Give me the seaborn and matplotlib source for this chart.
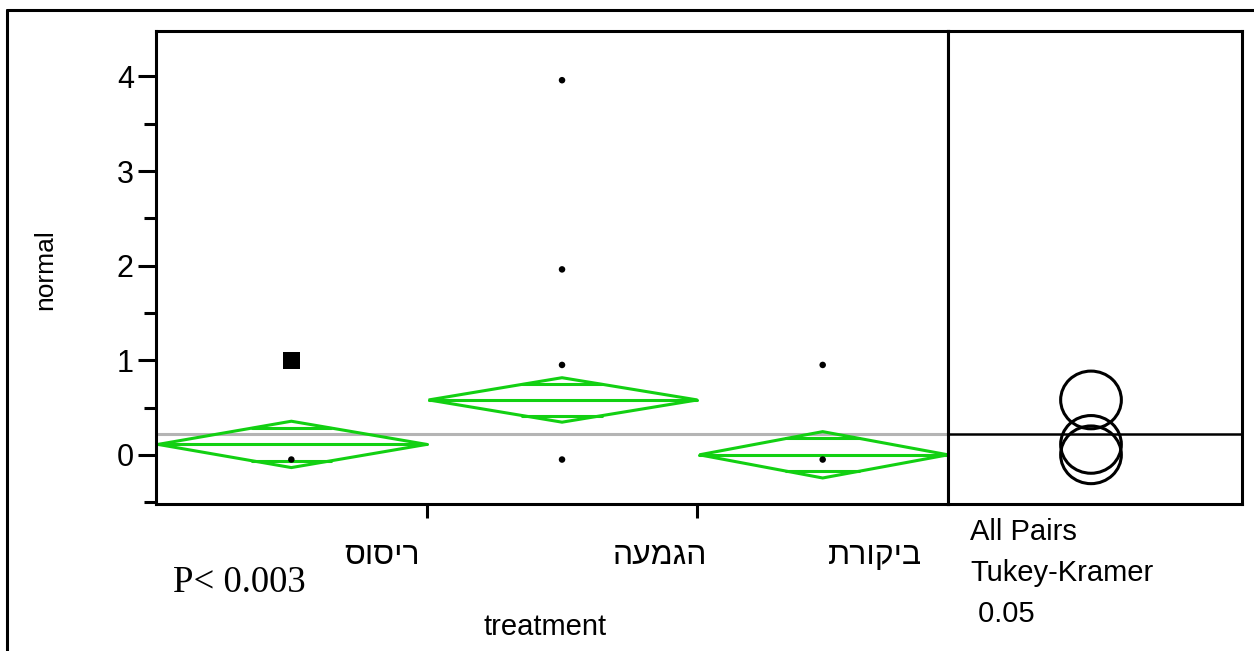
import numpy as np
import pandas as pd
import matplotlib
matplotlib.use("Agg")
import matplotlib.pyplot as plt
import seaborn as sns
from matplotlib.patches import Ellipse, Polygon
from matplotlib.lines import Line2D
from matplotlib.ticker import MultipleLocator

# ---------------- data ----------------
groups = ["ריסוס", "הגמעה", "ביקורת"]
group_n = [27, 27, 25]                  # relative group widths (JMP x-scaling by n)
group_means = [0.11, 0.58, 0.0]
group_ci_half = [0.245, 0.235, 0.245]   # 95% CI half-width (diamond half-height)
grand_mean = 0.22
circle_radius = [0.305, 0.305, 0.305]   # Tukey-Kramer comparison circle radii

pts_risus = [-0.05]
pts_risus_highlight = [1.0]
pts_hagmaa = [3.96, 1.96, 0.95, -0.05]
pts_bikoret = [0.95, -0.05]

y_ticks = [0, 1, 2, 3, 4]
y_label = "normal"
x_label = "treatment"
p_text = "P< 0.003"
compare_text = ["All Pairs", "Tukey-Kramer", " 0.05"]

# ---------------- layout ----------------
W, H = 1254, 651
sns.set_theme(style="white")
plt.rcParams['font.family'] = ['Liberation Sans', 'DejaVu Sans']
plt.rcParams['text.color'] = 'black'
plt.rcParams['axes.labelcolor'] = 'black'
plt.rcParams['xtick.color'] = 'black'
plt.rcParams['ytick.color'] = 'black'

fig = plt.figure(figsize=(W / 100, H / 100), dpi=100)
fig.patch.set_facecolor("white")

def px(x0, y0, x1, y1):
    return [x0 / W, 1 - y1 / H, (x1 - x0) / W, (y1 - y0) / H]

ax = fig.add_axes(px(156, 31, 948, 504))
ax2 = fig.add_axes(px(948, 31, 1242, 504))

bounds = np.concatenate([[0], np.cumsum(group_n)]).astype(float)
centers = (bounds[:-1] + bounds[1:]) / 2

# points dataframe
rows = []
for g, vals in zip(groups, [pts_risus, pts_hagmaa, pts_bikoret]):
    for v in vals:
        rows.append({"treatment": g, "normal": v})
df = pd.DataFrame(rows)
df["x"] = df["treatment"].map(dict(zip(groups, centers)))
df_hi = pd.DataFrame({"treatment": [groups[0]] * len(pts_risus_highlight),
                      "normal": pts_risus_highlight})
df_hi["x"] = df_hi["treatment"].map(dict(zip(groups, centers)))

ylim = (-0.52, 4.48)
ax.set_xlim(bounds[0], bounds[-1])
ax.set_ylim(*ylim)

green = "#12d012"
# grand mean line
ax.axhline(grand_mean, color="#b4b4b4", lw=2.2, zorder=1)

# means diamonds
for i in range(len(groups)):
    L, R, c = bounds[i], bounds[i + 1], centers[i]
    m, h = group_means[i], group_ci_half[i]
    poly = Polygon([(L + 0.2, m), (c, m + h), (R, m), (c, m - h)], closed=True,
                   fill=False, edgecolor=green, lw=2.2, zorder=2)
    ax.add_patch(poly)
    ax.plot([L + 0.2, R], [m, m], color=green, lw=2.2, zorder=2)
    half = (1 - 1 / np.sqrt(2)) * (R - L) / 2
    for s in (1, -1):
        ax.plot([c - half, c + half], [m + s * h / np.sqrt(2)] * 2,
                color=green, lw=2.2, zorder=2)

sns.scatterplot(data=df, x="x", y="normal", ax=ax, color="black", marker="o",
                s=22, edgecolor="none", zorder=3, legend=False)
sns.scatterplot(data=df_hi, x="x", y="normal", ax=ax, color="black", marker="s",
                s=150, edgecolor="none", zorder=3, legend=False)

# axes styling
for sp in ax.spines.values():
    sp.set_visible(True)
    sp.set_linewidth(2.2)
    sp.set_color("black")
ax.set_yticks(y_ticks)
ax.set_yticklabels([str(t) for t in y_ticks])
ax.yaxis.set_minor_locator(MultipleLocator(0.5))
ax.tick_params(axis="y", which="major", direction="out", length=13, width=2.2,
               labelsize=22, pad=3, left=True, color="black", labelcolor="black")
ax.tick_params(axis="y", which="minor", direction="out", length=8.5, width=2.2,
               left=True, color="black")
ax.set_xticks(bounds[1:-1])
ax.set_xticklabels([])
ax.tick_params(axis="x", which="major", direction="out", length=10, width=2.2,
               bottom=True, color="black")
ax.set_ylabel(y_label, fontsize=19, va="center", color="black")
ax.yaxis.set_label_coords((45 - 156) / 792, (504 - 270) / 473)
ax.set_xlabel(x_label, fontsize=21, va="center", color="black")
ax.xaxis.set_label_coords((545 - 156) / 792, (504 - 627) / 473)
ax.grid(False)

# category labels (Hebrew, reversed for visual RTL order)
label_px = [(382, 556), (660, 556), (875, 556)]
for g, (lx, ly) in zip(groups, label_px):
    fig.text(lx / W, 1 - ly / H, g[::-1], fontsize=23, ha="center", va="center",
             color="black", family=["Liberation Sans", "DejaVu Sans"])

fig.text(173 / W, 1 - 583 / H, p_text, fontsize=26.5, ha="left", va="center",
         color="black", family=["Liberation Serif", "DejaVu Serif"])

# comparison circles panel
ax2.set_xlim(0, 1)
ax2.set_ylim(*ylim)
ax2.set_xticks([])
ax2.set_yticks([])
for sp in ax2.spines.values():
    sp.set_visible(True)
    sp.set_linewidth(2.2)
    sp.set_color("black")
ax2.axhline(grand_mean, color="black", lw=1.8, zorder=1)
ppu_y = 473 / (ylim[1] - ylim[0])
for m, r in zip(group_means, circle_radius):
    rx = (r * ppu_y + 1.5) / 294
    ax2.add_patch(Ellipse(((1091 - 948) / 294, m), 2 * rx, 2 * r, fill=False,
                          edgecolor="black", lw=2.2, zorder=2))
ax2.grid(False)

for t, y in zip(compare_text, [532, 573, 614]):
    fig.text(970 / W, 1 - y / H, t, fontsize=21, ha="left", va="center", color="black")

# outer frame (top and left)
fig.add_artist(Line2D([7 / W, 1], [1 - 10 / H, 1 - 10 / H], color="black", lw=2.2,
                      transform=fig.transFigure))
fig.add_artist(Line2D([7 / W, 7 / W], [0, 1 - 10 / H], color="black", lw=2.2,
                      transform=fig.transFigure))

fig.savefig("out.png", dpi=100, facecolor="white")
